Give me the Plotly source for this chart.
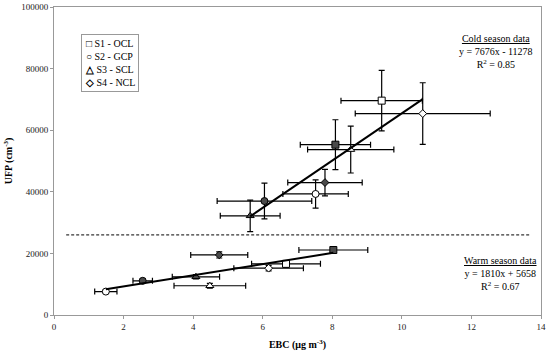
import plotly.graph_objects as go

# ---- data ----
stations = ["S1 - OCL", "S2 - GCP", "S3 - SCL", "S4 - NCL"]
symbols = ["square", "circle", "triangle-up", "diamond"]
legend_glyphs = ["□", "○", "△", "◇"]

cold_open_x = [9.42, 7.52, 8.53, 10.60]
cold_open_y = [69600, 39300, 53700, 65400]
cold_open_ex = [1.17, 0.94, 1.24, 1.94]
cold_open_ey = [9800, 4600, 7600, 10000]

cold_fill_x = [8.09, 6.05, 5.64, 7.79]
cold_fill_y = [55300, 37000, 32200, 43000]
cold_fill_ex = [1.01, 1.36, 0.86, 1.07]
cold_fill_ey = [8100, 5800, 5100, 4300]

warm_open_x = [6.67, 1.49, 4.48, 6.17]
warm_open_y = [16600, 7600, 9500, 15200]
warm_open_ex = [0.99, 0.32, 1.03, 1.00]
warm_open_ey = [1000, 600, 800, 900]

warm_fill_x = [8.03, 2.55, 4.08, 4.75]
warm_fill_y = [21100, 11100, 12400, 19500]
warm_fill_ex = [0.99, 0.28, 0.68, 0.82]
warm_fill_ey = [800, 600, 700, 1000]

cold_fit = {"slope": 7676, "intercept": -11278, "r2": 0.85}
warm_fit = {"slope": 1810, "intercept": 5658, "r2": 0.67}

divider_x = [0.35, 13.68]
divider_y = [26000, 26000]

x_ticks = [0, 2, 4, 6, 8, 10, 12, 14]
y_ticks = [0, 20000, 40000, 60000, 80000, 100000]

FONT = "Liberation Serif, Times New Roman, serif"

fig = go.Figure()

def add_points(xs, ys, exs, eys, filled):
    for i in range(len(xs)):
        fig.add_trace(go.Scatter(
            x=[xs[i]], y=[ys[i]], mode="markers",
            marker=dict(symbol=symbols[i], size=7 if symbols[i] != "diamond" else 6,
                        color="#4a4a4a" if filled else "white",
                        line=dict(color="black", width=1)),
            error_x=dict(type="data", array=[exs[i]], color="black", thickness=1.2, width=3),
            error_y=dict(type="data", array=[eys[i]], color="black", thickness=1.2, width=3),
            showlegend=False, hoverinfo="x+y"))

add_points(cold_fill_x, cold_fill_y, cold_fill_ex, cold_fill_ey, True)
add_points(cold_open_x, cold_open_y, cold_open_ex, cold_open_ey, False)
add_points(warm_fill_x, warm_fill_y, warm_fill_ex, warm_fill_ey, True)
add_points(warm_open_x, warm_open_y, warm_open_ex, warm_open_ey, False)

# regression lines
cold_all_x = cold_open_x + cold_fill_x
warm_all_x = warm_open_x + warm_fill_x
for fit, xs in ((cold_fit, cold_all_x), (warm_fit, warm_all_x)):
    lx = [min(xs), max(xs)]
    ly = [fit["slope"] * v + fit["intercept"] for v in lx]
    fig.add_trace(go.Scatter(x=lx, y=ly, mode="lines",
                             line=dict(color="black", width=2), showlegend=False))

# divider
fig.add_trace(go.Scatter(x=divider_x, y=divider_y, mode="lines",
                         line=dict(color="black", width=1, dash="3px,2px"), showlegend=False))

# legend (text box)
legend_text = "<br>".join(f"<b>{g}</b> {s}" for g, s in zip(legend_glyphs, stations))
fig.add_annotation(text=legend_text, xref="paper", yref="paper",
                   x=0.055, y=0.912, xanchor="left", yanchor="top",
                   showarrow=False, align="left",
                   bordercolor="#999999", borderwidth=1, borderpad=3, bgcolor="white",
                   font=dict(family=FONT, size=10, color="black"))

def eq_text(title, fit):
    sign = "-" if fit["intercept"] < 0 else "+"
    return (f"<u>{title}</u><br>y = {fit['slope']}x {sign} {abs(fit['intercept'])}"
            f"<br>R<sup>2</sup> = {fit['r2']:.2f}")

fig.add_annotation(text=eq_text("Cold season data", cold_fit), xref="paper", yref="paper",
                   x=0.908, y=0.854, xanchor="center", yanchor="middle",
                   showarrow=False, align="center",
                   font=dict(family=FONT, size=10, color="black"))
fig.add_annotation(text=eq_text("Warm season data", warm_fit), xref="paper", yref="paper",
                   x=0.916, y=0.136, xanchor="center", yanchor="middle",
                   showarrow=False, align="center",
                   font=dict(family=FONT, size=10, color="black"))

axis_common = dict(showline=True, linecolor="#999999", linewidth=1, mirror=True,
                   showgrid=False, zeroline=False, ticks="outside", ticklen=3,
                   tickcolor="#999999", automargin=False,
                   tickfont=dict(family=FONT, size=9, color="#222"))

fig.update_xaxes(range=[0, 14], tickvals=x_ticks, ticktext=[str(v) for v in x_ticks],
                 title=dict(text="<b>EBC (μg m<sup>-3</sup>)</b>", font=dict(family=FONT, size=10, color="black"), standoff=10),
                 **axis_common)
fig.update_yaxes(range=[0, 100000], tickvals=y_ticks, ticktext=[str(v) for v in y_ticks],
                 title=dict(text="<b>UFP (cm<sup>-3</sup>)</b>", font=dict(family=FONT, size=10, color="black"), standoff=6),
                 **axis_common)

fig.update_layout(
    width=550, height=358,
    margin=dict(l=54, r=9, t=7, b=43),
    plot_bgcolor="white", paper_bgcolor="white",
    font=dict(family=FONT, size=10, color="black"),
    showlegend=False,
)

fig.write_html("out.html", config={"displayModeBar": False},
               post_script="document.body.style.margin='0px';")
